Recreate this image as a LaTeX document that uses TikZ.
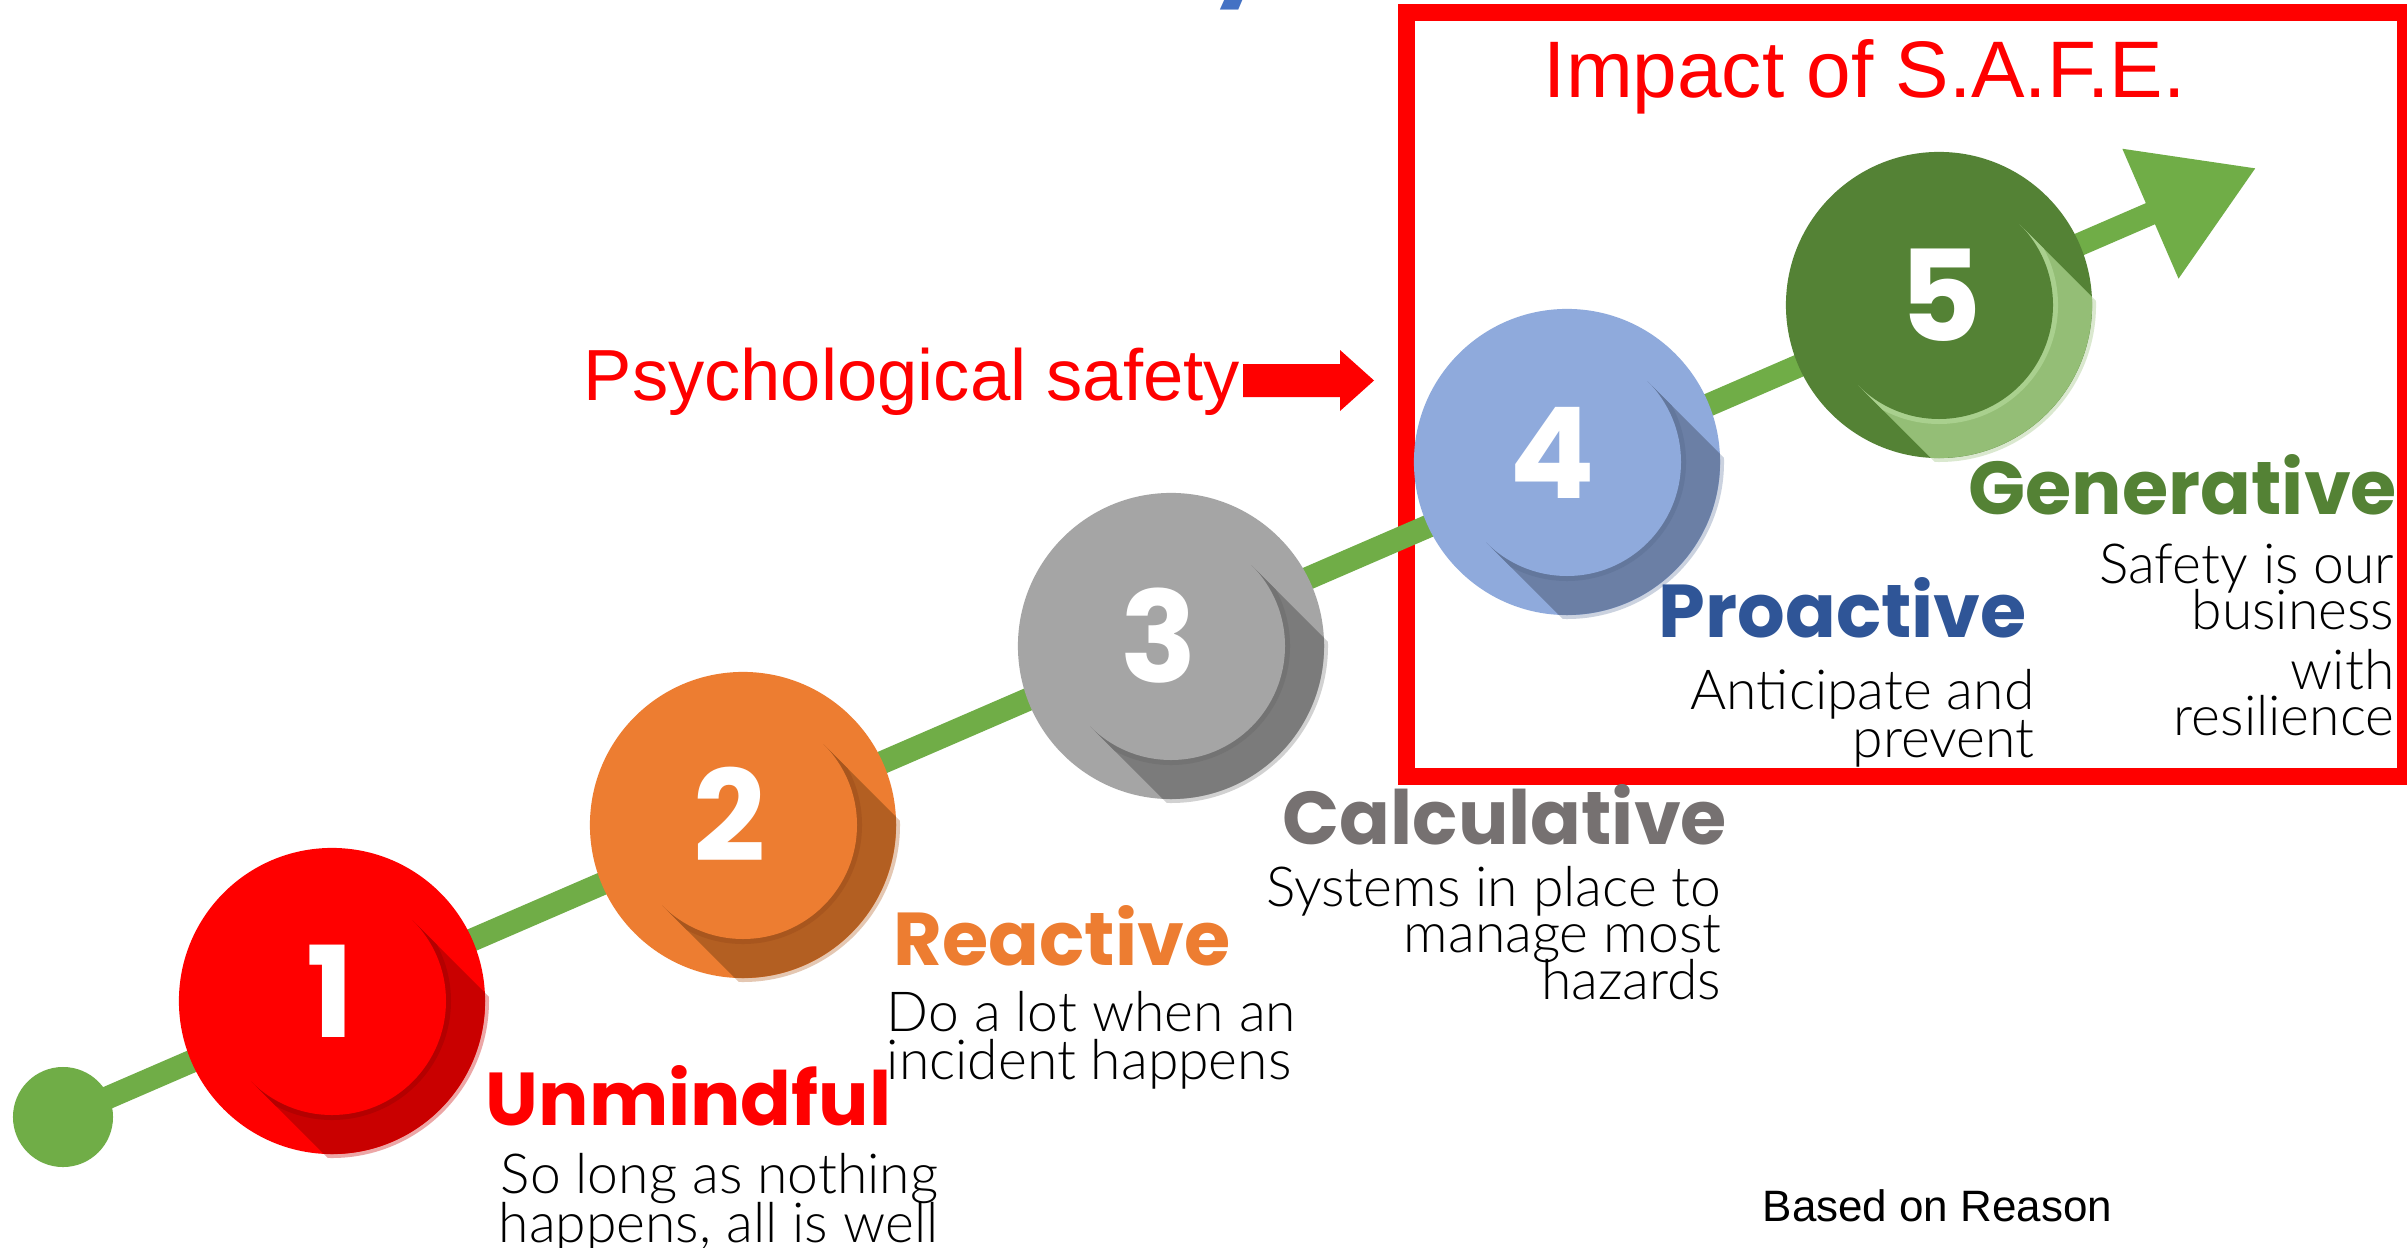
\documentclass[tikz,border=0pt]{standalone}
\usepackage{fontspec}
\usetikzlibrary{arrows.meta,calc}
\newfontfamily\headfont{Poppins}
\newfontfamily\bodyfont{Lato Light}
\newfontfamily\arialfont{Liberation Sans}

\definecolor{trailgreen}{HTML}{70AD47}
\definecolor{sred}{HTML}{FF0000}
\definecolor{sredsh}{HTML}{C90000}
\definecolor{sredrim}{HTML}{B40000}
\definecolor{sorange}{HTML}{ED7D31}
\definecolor{sorangesh}{HTML}{B35F22}
\definecolor{sorangerim}{HTML}{A8561E}
\definecolor{sgray}{HTML}{A5A5A5}
\definecolor{sgraysh}{HTML}{7B7B7B}
\definecolor{sgrayrim}{HTML}{737373}
\definecolor{sblue}{HTML}{8FAADC}
\definecolor{sbluesh}{HTML}{6B7FA5}
\definecolor{sbluerim}{HTML}{63779C}
\definecolor{sgreen}{HTML}{548235}
\definecolor{sgreensh}{HTML}{94BE76}
\definecolor{sgreenrim}{HTML}{A9D08E}
\definecolor{calcgray}{HTML}{767171}
\definecolor{problue}{HTML}{2F5597}
\definecolor{titleblue}{HTML}{4472C4}

% one stage disc with its long shadow and its number
% #1 name, #2 x, #3 y, #4 disc, #5 shadow, #6 rim, #7 number, #8 number x offset
\newcommand\stagedisc[8]{%
  \begin{scope}[shift={(#2,#3)}]
    \begin{scope}
      \clip (0,0) circle[radius=157];
      \fill[#5!35] (80.6,80.6) -- (480.6,-319.4) -- (319.4,-480.6) -- (-80.6,-80.6) -- cycle;
    \end{scope}
    \node[disc, fill=#4] (#1) at (0,0) {};
    \begin{scope}
      \clip (0,0) circle[radius=153];
      \fill[#5] (80.6,80.6) -- (480.6,-319.4) -- (319.4,-480.6) -- (-80.6,-80.6) -- cycle;
      \clip (80.6,80.6) -- (480.6,-319.4) -- (319.4,-480.6) -- (-80.6,-80.6) -- cycle;
      \fill[#6] (0,0) circle[radius=119];
    \end{scope}
    \fill[#4] (0,0) circle[radius=114];
    \node[digit] (#1num) at (#8,-36) {#7};
  \end{scope}}

\begin{document}
\begin{tikzpicture}[x=0.01cm, y=0.01cm,
  disc/.style={circle, minimum size=3.06cm, inner sep=0pt},
  digit/.style={anchor=base, inner sep=0pt, text=white, font=\headfont\bfseries\fontsize{36}{36}\selectfont},
  heading/.style={anchor=base west, inner sep=0pt, font=\headfont\bfseries\fontsize{21.3}{22}\selectfont},
  body/.style={anchor=base east, inner sep=0pt, font=\bodyfont\fontsize{15.7}{16}\selectfont},
  bodyl/.style={body, anchor=base west},
  trail/.style={trailgreen, line width=0.23cm, -{Triangle[length=1.15cm, width=1.35cm]}},
]
\useasboundingbox (0,0) rectangle (2407,1247);
\fill[white] (0,0) rectangle (2407,1247);

% descender of the title letter above the frame
\node[anchor=base west, inner sep=0pt, text=titleblue, font=\headfont\bfseries\fontsize{28.5}{30}\selectfont] (titley) at (1210,1264) {y};

% frame round the last two stages
\draw[sred, line width=0.17cm] (1406.5,470.5) rectangle (2405.5,1234.5);
\node[anchor=base west, inner sep=0pt, text=sred, font=\arialfont\fontsize{22.8}{24}\selectfont] (impact) at (1543,1150) {Impact of S.A.F.E.};

% rising trail
\node[circle, fill=trailgreen, minimum size=1cm, inner sep=0pt] (start) at (63,130) {};
\coordinate (tip) at (2256,1079);
\draw[trail] (start.center) -- (tip);

% stages
\stagedisc{one}{332}{246}{sred}{sredsh}{sredrim}{1}{-2}
\stagedisc{two}{743}{422}{sorange}{sorangesh}{sorangerim}{2}{-13}
\stagedisc{three}{1171}{601}{sgray}{sgraysh}{sgrayrim}{3}{-12}
\stagedisc{four}{1567}{785}{sblue}{sbluesh}{sbluerim}{4}{-15}
\stagedisc{five}{1939}{942}{sgreen}{sgreensh}{sgreenrim}{5}{2}

% psychological safety pointer
\node[anchor=base west, inner sep=0pt, text=sred, font=\arialfont\fontsize{20.6}{22}\selectfont] (psy) at (583,847) {Psychological safety};
\coordinate (pa) at (1243,866.5);
\coordinate (pb) at (1374,866.5);
\fill[sred] ($(pa)+(0,16.5)$) -- ++(97,0) -- ++(0,14) -- (pb) -- ($(pa)+(97,-30.5)$) -- ++(0,14) -- ($(pa)+(0,-16.5)$) -- cycle;

% stage labels
\node[heading, text=sred] (h1) at (485,122) {Unmindful};
\node[body] (d1a) at (939,54) {So long as nothing};
\node[body] (d1b) at (939,5) {happens, all is well};

\node[heading, text=sorange] (h2) at (893,282) {Reactive};
\node[bodyl] (d2a) at (886,216) {Do a lot when an};
\node[bodyl] (d2b) at (886,168) {incident happens};

\node[heading, text=calcgray] (h3) at (1282,403) {Calculative};
\node[body] (d3a) at (1722,341) {Systems in place to};
\node[body] (d3b) at (1722,295) {manage most};
\node[body] (d3c) at (1722,248) {hazards};

\node[heading, text=problue] (h4) at (1658,610) {Proactive};
\node[body] (d4a) at (2035,538) {Anticipate and};
\node[body] (d4b) at (2035,490) {prevent};

\node[heading, text=sgreen] (h5) at (1968,733) {Generative};
\node[body] (d5a) at (2395,664) {Safety is our};
\node[body] (d5b) at (2395,618) {business};
\node[body] (d5c) at (2395,558) {with};
\node[body] (d5d) at (2395,512) {resilience};

\node[anchor=base west, inner sep=0pt, font=\arialfont\fontsize{12.5}{13}\selectfont] (src) at (1762,26) {Based on Reason};
\end{tikzpicture}
\end{document}
